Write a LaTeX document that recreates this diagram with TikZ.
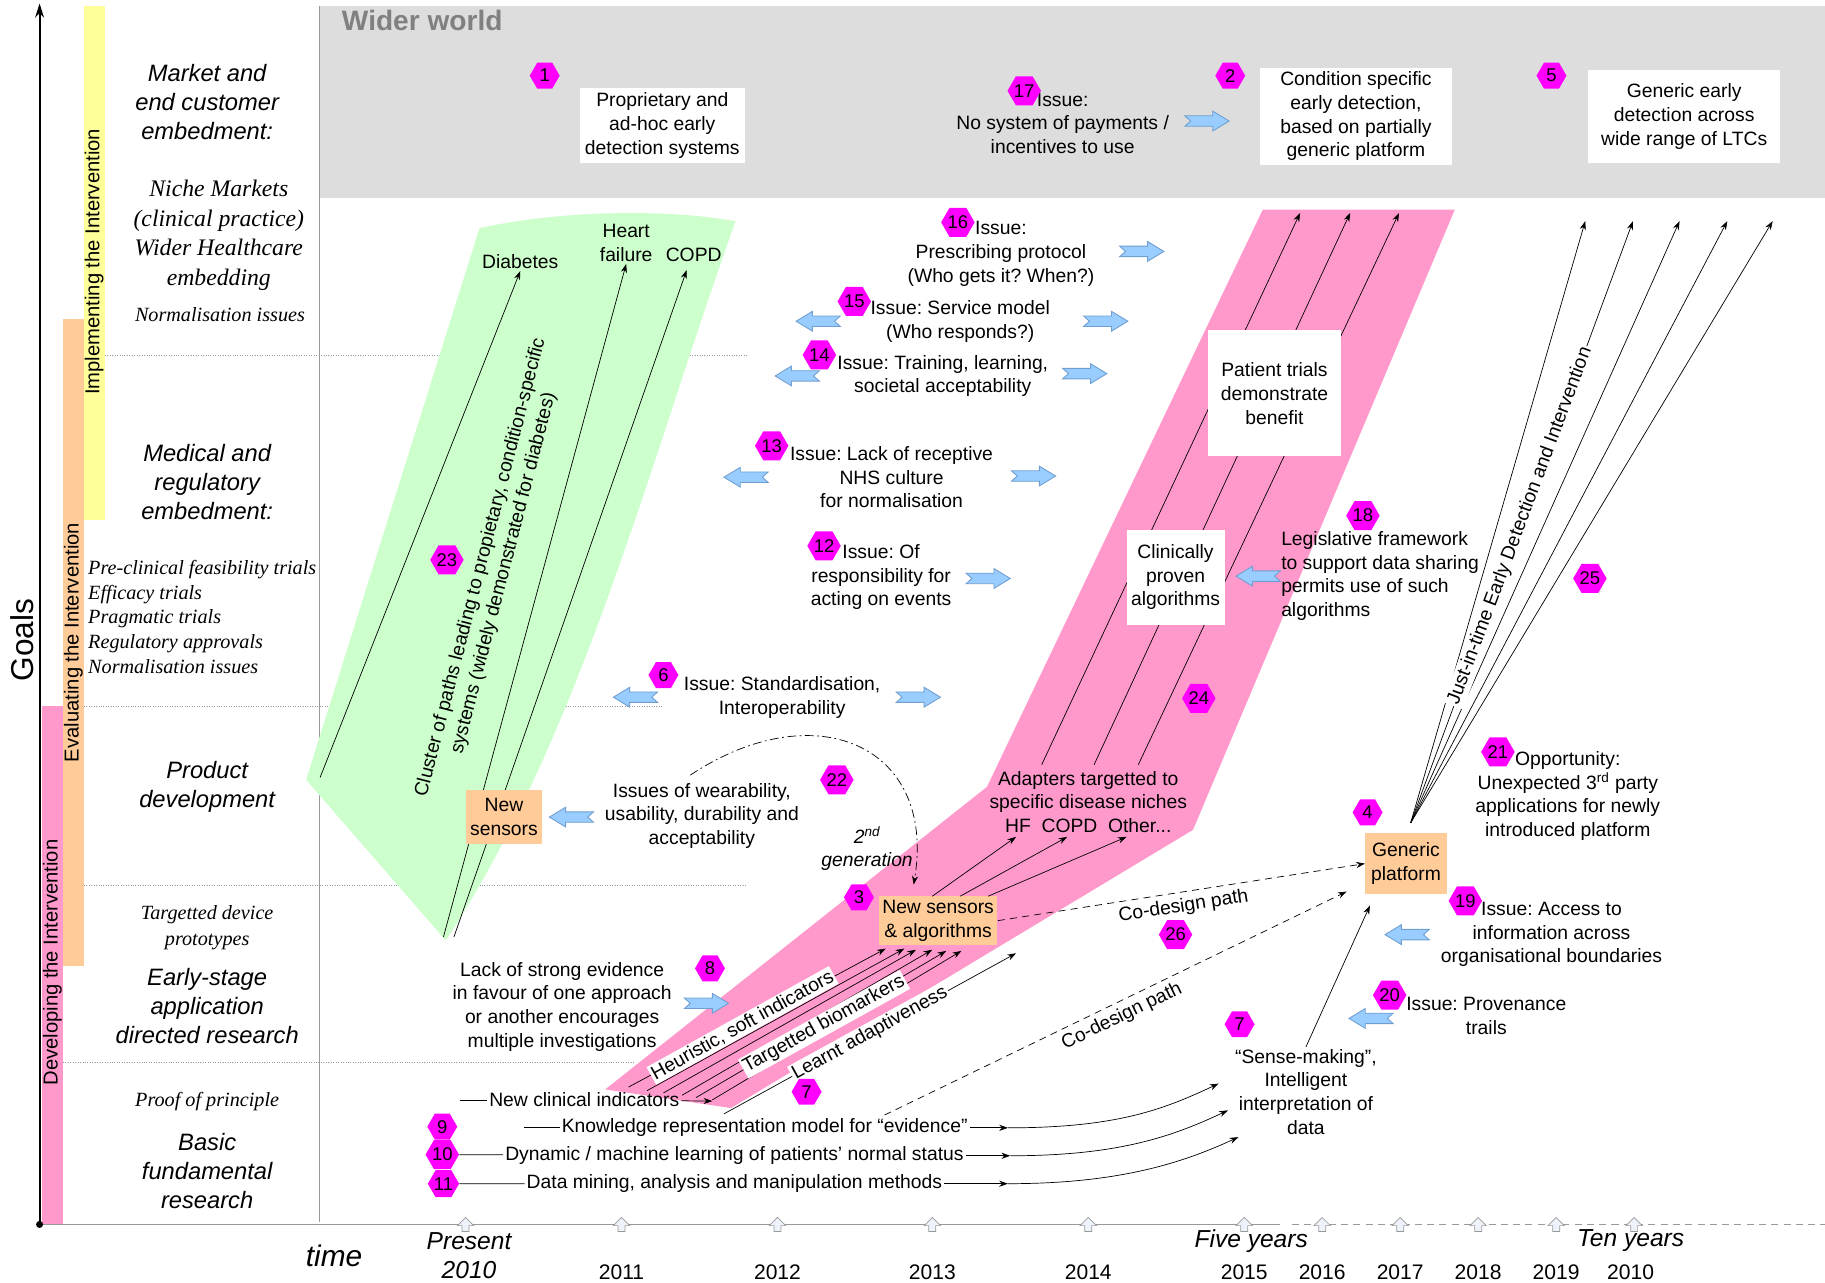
\documentclass[tikz,border=0pt]{standalone}
\usepackage{fontspec}
\setmainfont{Liberation Sans}
\newfontfamily\tms{Liberation Serif}
\frenchspacing
\usetikzlibrary{positioning, arrows.meta, shapes.geometric}
\definecolor{WiderGrey}{HTML}{DDDDDD}
\definecolor{ClusterGreen}{HTML}{CCFFCC}
\definecolor{BandPink}{HTML}{FF99CC}
\definecolor{BoxPeach}{HTML}{FFCC99}
\definecolor{BarYellow}{HTML}{FFFF99}
\definecolor{HexMagenta}{HTML}{FF00FF}
\definecolor{ArrBlue}{HTML}{99CCFF}
\definecolor{ArrEdge}{HTML}{6F9FD0}
\definecolor{AxisGrey}{HTML}{999999}
\definecolor{TickFill}{HTML}{EEF3FB}

\begin{document}
\begin{tikzpicture}[
  x=0.0233cm, y=-0.0233cm,
  every node/.style={font=\fontsize{11}{13.5}\selectfont, align=center, inner sep=1pt},
  hexa/.style={regular polygon, regular polygon sides=6, fill=HexMagenta,
    minimum size=0.6cm, inner sep=0pt, font=\fontsize{10.5}{11}\selectfont},
  rowlab/.style={font=\fontsize{13.5}{16.5}\selectfont\itshape},
  rowsub/.style={font=\tms\itshape\fontsize{13.5}{16.8}\selectfont},
  rowsmall/.style={font=\tms\itshape\fontsize{11.5}{14.5}\selectfont},
  barlab/.style={rotate=90, font=\fontsize{11.5}{12}\selectfont},
  yearlab/.style={font=\fontsize{12}{14}\selectfont},
  milestone/.style={font=\fontsize{14}{17}\selectfont\itshape},
  wbox/.style={fill=white, inner sep=2pt},
  obox/.style={fill=BoxPeach, inner sep=2pt},
  onlab/.style={fill=white, sloped, inner sep=1pt},
  rowline/.style={densely dotted, AxisGrey, thin},
  arr/.style={-{Stealth[length=5pt, width=3.5pt]}, thin},
  codesign/.style={arr, dash pattern=on 4pt off 3pt},
  barrow/.pic={\draw[fill=ArrBlue, draw=ArrEdge, line width=0.5pt]
    (-19,-4.5) -- (5,-4.5) -- (5,-8.5) -- (19,0) -- (5,8.5) -- (5,4.5)
    -- (-19,4.5) -- (-14,0) -- cycle;},
  tickarr/.pic={\draw[AxisGrey, fill=TickFill, line width=0.4pt]
    (-3,6) -- (-3,1) -- (-7,1) -- (0,-6) -- (7,1) -- (3,1) -- (3,6) -- cycle;}
]
  \useasboundingbox (0,0) rectangle (1568,1102);

  % Wider world band
  \fill[WiderGrey] (274,5) rectangle (1568,170);
  \node[font=\fontsize{16}{18}\selectfont\bfseries, text=gray, anchor=west] (wider) at (292,18) {Wider world};
  \draw[AxisGrey, thin] (274,5) -- (274,1050);

  % Stage bars
  \fill[BarYellow] (72,5) rectangle (90,447);
  \fill[BoxPeach] (54,274) rectangle (72,830);
  \fill[BandPink] (36,607) rectangle (54,1052);
  \node[barlab] (impl) at (81,225) {Implementing the Intervention};
  \node[barlab] (eval) at (63,552) {Evaluating the Intervention};
  \node[barlab] (devel) at (45,827) {Developing the Intervention};

  % Row separators
  \draw[rowline] (90,305) -- (642,305);
  \draw[rowline] (72,607) -- (570,607);
  \draw[rowline] (72,761) -- (642,761);
  \draw[rowline] (54,913) -- (545,913);

  % Goals axis and time axis
  \coordinate (origin) at (34,1052);
  \coordinate (goaltop) at (34,3);
  \coordinate (axisend) at (1100,1052);
  \coordinate (dashbeg) at (1110,1052);
  \coordinate (dashend) at (1568,1052);
  \draw[AxisGrey] (origin) -- (axisend);
  \draw[AxisGrey, dash pattern=on 4pt off 3pt] (dashbeg) -- (dashend);
  \draw[line width=1.1pt, -{Stealth[length=8pt, width=5pt]}] (origin) -- (goaltop);
  \fill (origin) circle (2pt);
  \node[rotate=90, font=\fontsize{18}{20}\selectfont] (goals) at (19,550) {Goals};
  \foreach \x in {400,534,668,801,935,1069,1136,1203,1270,1337,1404}
    \pic at (\x,1052) {tickarr};
  \node[font=\fontsize{17}{20}\selectfont\itshape] (time) at (287,1079) {time};
  \node[milestone] (present) at (403,1066) {Present};
  \node[milestone] (now) at (403,1091) {2010};
  \foreach \x/\yr in {534/2011, 668/2012, 801/2013, 935/2014, 1069/2015, 1136/2016,
                      1203/2017, 1270/2018, 1337/2019, 1401/2010}
    \node[yearlab] (yr\x) at (\x,1093) {\yr};
  \node[milestone] (five) at (1075,1066) {Five years};
  \node[milestone] (ten) at (1401,1066) {Ten years};

  % Row labels
  \node[rowlab] (market) at (178,88) {Market and\\end customer\\embedment:};
  \node[rowsub] (niche) at (188,202) {Niche Markets\\(clinical practice)\\Wider Healthcare\\embedding};
  \node[rowsmall] (normA) at (189,270) {Normalisation issues};
  \node[rowlab] (medical) at (178,414) {Medical and\\regulatory\\embedment:};
  \node[rowsmall, align=left, anchor=west, font=\tms\itshape\fontsize{11.5}{14}\selectfont]
    (trials) at (74,530) {Pre-clinical feasibility trials\\Efficacy trials\\Pragmatic trials\\Regulatory approvals\\Normalisation issues};
  \node[rowlab] (product) at (178,676) {Product\\development};
  \node[rowsmall] (proto) at (178,797) {Targetted device\\prototypes};
  \node[rowlab] (early) at (178,864) {Early-stage\\application\\directed research};
  \node[rowsmall] (proof) at (178,946) {Proof of principle};
  \node[rowlab] (basic) at (178,1006) {Basic\\fundamental\\research};

  % Green cluster of condition-specific paths
  \fill[ClusterGreen] (412,196) .. controls (480,181) and (570,179) .. (632,190)
    .. controls (560,390) and (500,630) .. (383,808) -- (263,670) -- cycle;

  % Pink band
  \fill[BandPink] (1085,180) -- (1250,180) -- (1025,713) -- (628,952)
    -- (520,936) -- (848,676) -- cycle;

  % Condition-specific paths
  \node (diab) at (447,225) {Diabetes};
  \node (hfail) at (538,209) {Heart\\failure};
  \node (copd) at (596,219) {COPD};
  \coordinate (diab0) at (275,668);
  \coordinate (hf0) at (381,805);
  \coordinate (copd0) at (390,805);
  \coordinate (copd1) at (590,232);
  \draw[arr] (diab0) -- (diab.south);
  \draw[arr] (hf0) -- (hfail.south);
  \draw[arr] (copd0) -- (copd1);
  \node[rotate=75.5] (cluster) at (423,490) {Cluster of paths leading to propietary, condition-specific\\systems (widely demonstrated for diabetes)};
  \node[hexa] (h23) at (384,481) {23};
  \node[obox, minimum width=1.51cm, minimum height=1.07cm] (newsens) at (433,702) {New\\sensors};

  % Issues (middle column)
  \node (iss16) at (860,218) {Issue:\\Prescribing protocol\\(Who gets it? When?)};
  \node[hexa] (h16) at (823,191) {16};
  \pic at (981,216) {barrow};
  \node (iss15) at (825,276) {Issue: Service model\\(Who responds?)};
  \node[hexa] (h15) at (734,259) {15};
  \pic[xscale=-1] at (703,276) {barrow};
  \pic at (950,276) {barrow};
  \node (iss14) at (810,323) {Issue: Training, learning,\\societal acceptability};
  \node[hexa] (h14) at (704,305) {14};
  \pic[xscale=-1] at (685,323) {barrow};
  \pic at (932,321) {barrow};
  \node (iss13) at (766,410) {Issue: Lack of receptive\\NHS culture\\for normalisation};
  \node[hexa] (h13) at (663,383) {13};
  \pic[xscale=-1] at (641,410) {barrow};
  \pic at (888,409) {barrow};
  \node (iss12) at (757,496) {Issue: Of\\responsibility for\\acting on events};
  \node[hexa] (h12) at (708,469) {12};
  \pic at (849,497) {barrow};
  \node (iss6) at (672,599) {Issue: Standardisation,\\Interoperability};
  \node[hexa] (h6) at (570,580) {6};
  \pic[xscale=-1] at (546,599) {barrow};
  \pic at (789,599) {barrow};

  % Wearability and 2nd generation loop
  \node (wear) at (603,701) {Issues of wearability,\\usability, durability and\\acceptability};
  \node[hexa] (h22) at (719,670) {22};
  \pic[xscale=-1] at (491,702) {barrow};
  \coordinate (loop0) at (593,666);
  \coordinate (loop1) at (785,760);
  \draw[arr, dash pattern=on 5pt off 2pt on 1pt off 2pt] (loop0) .. controls (700,595) and (805,640) .. (loop1);
  \node[font=\fontsize{11}{13.5}\selectfont\itshape] (gen2) at (745,729) {2\textsuperscript{nd}\\generation};

  % Early stage bundle into new sensors & algorithms
  \foreach \i/\sx/\sy/\ex/\ey in {1/540/934/761/815, 2/556/937/777/815, 3/570/939/787/816,
                                  4/586/941/801/816, 5/598/943/813/817, 6/612/945/826/817} {
    \coordinate (bs\i) at (\sx,\sy);
    \coordinate (be\i) at (\ex,\ey);
    \draw[arr] (bs\i) -- (be\i);
  }
  \node[fill=white, rotate=29] (heur) at (638,881) {Heuristic, soft indicators};
  \node[fill=white, rotate=29] (targ) at (708,880) {Targetted biomarkers};
  \coordinate (learn0) at (622,957);
  \coordinate (learn1) at (873,819);
  \draw[arr] (learn0) -- node[onlab] (learnt) {Learnt adaptiveness} (learn1);
  \node[hexa] (h7a) at (693,938) {7};
  \node[hexa] (h3) at (738,771) {3};
  \node[obox, minimum width=2.35cm, minimum height=0.98cm] (nsa) at (806,791) {New sensors\\\& algorithms};

  \node (lack) at (483,865) {Lack of strong evidence\\in favour of one approach\\or another encourages\\multiple investigations};
  \node[hexa] (h8) at (610,832) {8};
  \pic at (607,862) {barrow};

  \coordinate (nci0) at (395,945);
  \coordinate (nci1) at (612,946);
  \node (nci) at (502,945) {New clinical indicators};
  \draw (nci0) -- (nci);
  \draw[arr] (nci) -- (nci1);

  % Adapters and the clinical path
  \node (adapt) at (935,689) {Adapters targetted to\\specific disease niches\\HF~~COPD~~Other...};
  \foreach \i/\sx/\ex in {1/801/873, 2/825/917, 3/849/968} {
    \coordinate (ad\i) at (\sx,770);
    \coordinate (at\i) at (\ex,719);
    \draw[arr] (ad\i) -- (at\i);
  }
  \foreach \i/\sx/\ex in {1/895/1117, 2/940/1160, 3/978/1202} {
    \coordinate (pl\i) at (\sx,657);
    \coordinate (pu\i) at (\ex,183);
    \draw[arr] (pl\i) -- (pu\i);
  }
  \node[hexa] (h24) at (1030,600) {24};
  \node[wbox, minimum width=2.68cm, minimum height=2.52cm] (patient) at (1095,338) {Patient trials\\demonstrate\\benefit};
  \node[wbox, minimum width=1.96cm, minimum height=1.91cm] (clin) at (1010,496) {Clinically\\proven\\algorithms};
  \node[hexa] (h18) at (1171,443) {18};
  \node[align=left, anchor=west] (legis) at (1099,495) {Legislative framework\\to support data sharing\\permits use of such\\algorithms};
  \pic[xscale=-1] at (1081,495) {barrow};

  % Generic platform and fan of applications
  \node[hexa] (h4) at (1175,698) {4};
  \node[obox, minimum width=1.63cm, minimum height=1.21cm] (gp) at (1208,742) {Generic\\platform};
  \coordinate (fan0) at (1212,707);
  \foreach \i/\tx in {1/1362, 2/1403, 3/1443, 4/1484, 5/1523} {
    \coordinate (fan\i) at (\tx,190);
    \draw[arr] (fan0) -- (fan\i);
  }
  \node[fill=white, rotate=69.5] (jit) at (1306,452) {Just-in-time Early Detection and Intervention};
  \node[hexa] (h25) at (1366,497) {25};
  \node (opp) at (1347,684) {Opportunity:\\Unexpected 3\textsuperscript{rd} party\\applications for newly\\introduced platform};
  \node[hexa] (h21) at (1287,646) {21};
  \node (iss19) at (1333,803) {Issue: Access to\\information across\\organisational boundaries};
  \node[hexa] (h19) at (1259,774) {19};
  \pic[xscale=-1] at (1209,803) {barrow};
  \node (iss20) at (1277,873) {Issue: Provenance\\trails};
  \node[hexa] (h20) at (1194,855) {20};
  \pic[xscale=-1] at (1178,875) {barrow};

  % Co-design paths
  \draw[codesign] (nsa.east) -- node[sloped, below, inner sep=3pt] (cod1) {Co-design path} (gp.west);
  \node[hexa] (h26) at (1010,803) {26};
  \coordinate (cod2a) at (760,958);
  \coordinate (cod2b) at (1157,766);
  \draw[codesign] (cod2a) -- node[sloped, below, inner sep=3pt] (cod2) {Co-design path} (cod2b);

  % Sense-making
  \node (sense) at (1122,938) {“Sense-making”,\\Intelligent\\interpretation of\\data};
  \node[hexa] (h7b) at (1065,880) {7};
  \coordinate (sense1) at (1177,778);
  \draw[arr] (sense.north) -- (sense1);

  % Basic research strands
  \node[hexa] (h9) at (380,968) {9};
  \node[hexa] (h10) at (380,992) {10};
  \node[hexa] (h11) at (381,1017) {11};
  \node (know) at (657,969) {Knowledge representation model for “evidence”};
  \node (dyn) at (631,993) {Dynamic / machine learning of patients’ normal status};
  \node (dmine) at (631,1017) {Data mining, analysis and manipulation methods};
  \coordinate (kn0) at (450,969);
  \draw (kn0) -- (know);
  \draw (h10) -- (dyn);
  \draw (h11) -- (dmine);
  \coordinate (knm) at (866,969);
  \coordinate (dym) at (868,993);
  \coordinate (dmm) at (866,1017);
  \coordinate (kne) at (1047,931);
  \coordinate (dye) at (1055,954);
  \coordinate (dme) at (1064,977);
  \draw[arr] (know) -- (knm);
  \draw[arr] (dyn) -- (dym);
  \draw[arr] (dmine) -- (dmm);
  \draw[arr] (knm) .. controls (960,969) and (1000,953) .. (kne);
  \draw[arr] (dym) .. controls (962,993) and (1008,976) .. (dye);
  \draw[arr] (dmm) .. controls (962,1017) and (1016,999) .. (dme);

  % Wider world content
  \node[hexa] (h1) at (468,65) {1};
  \node[wbox, minimum width=3.31cm, minimum height=1.51cm] (propr) at (569,108) {Proprietary and\\ad-hoc early\\detection systems};
  \node (iss17) at (913,106) {Issue:\\No system of payments /\\incentives to use};
  \node[hexa] (h17) at (880,78) {17};
  \pic at (1037,104) {barrow};
  \node[hexa] (h2) at (1057,65) {2};
  \node[wbox, minimum width=3.84cm, minimum height=1.93cm] (cond) at (1165,100) {Condition specific\\early detection,\\based on partially\\generic platform};
  \node[hexa] (h5) at (1333,65) {5};
  \node[wbox, minimum width=3.84cm, minimum height=1.86cm] (genearly) at (1447,100) {Generic early\\detection across\\wide range of LTCs};
\end{tikzpicture}
\end{document}
